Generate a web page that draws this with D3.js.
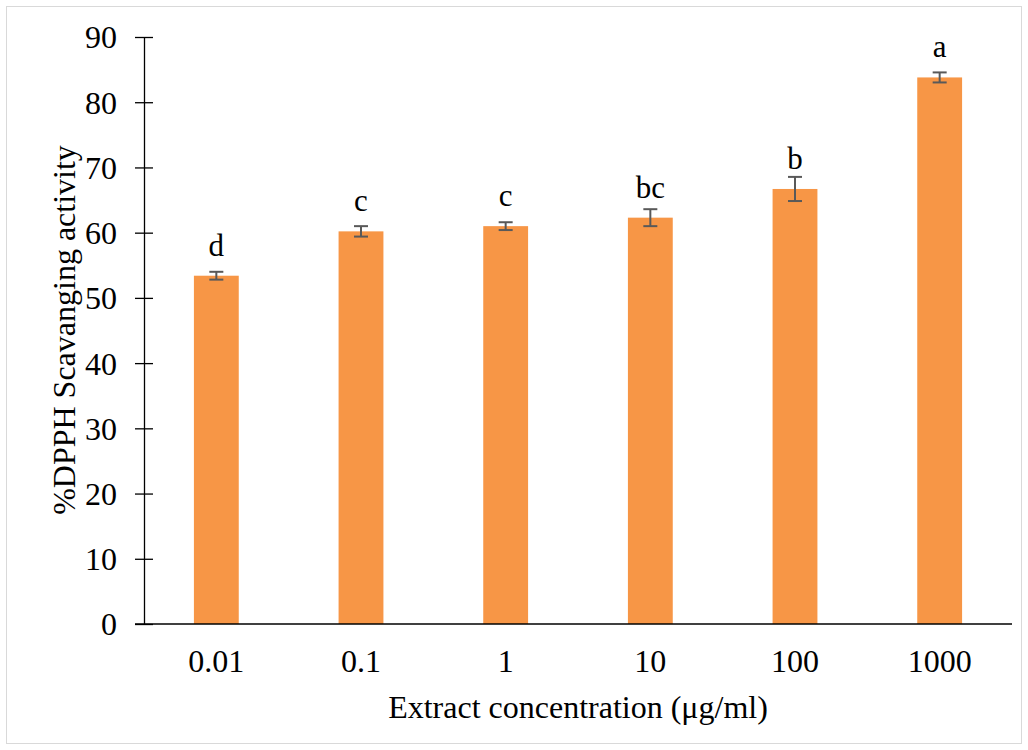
<!DOCTYPE html>
<html>
<head>
<meta charset="utf-8">
<script src="https://cdn.jsdelivr.net/npm/d3@7"></script>
<style>
  body { margin: 0; background: #fff; }
  text { font-family: "Liberation Serif", "Times New Roman", serif; fill: #000; }
</style>
</head>
<body>
<svg id="chart"></svg>
<script>
const categories = ['0.01', '0.1', '1', '10', '100', '1000'];
const values = [53.4, 60.2, 61.0, 62.3, 66.7, 83.8];
const errors = [0.6, 0.8, 0.6, 1.3, 1.85, 0.77];
const letters = ['d', 'c', 'c', 'bc', 'b', 'a'];
const yTicks = [0, 10, 20, 30, 40, 50, 60, 70, 80, 90];

const width = 1028;
const height = 750;

const svg = d3.select('#chart')
  .attr('width', width)
  .attr('height', height);

// light frame around the chart
svg.append('rect')
  .attr('x', 6.5).attr('y', 6.5)
  .attr('width', 1015).attr('height', 737)
  .attr('fill', '#fff')
  .attr('stroke', '#d9d9d9');

const margin = {left: 144, right: 16, top: 37, bottom: 126};
const innerW = width - margin.left - margin.right;
const innerH = height - margin.top - margin.bottom;

const g = svg.append('g')
  .attr('transform', `translate(${margin.left}, ${margin.top})`);

const xScale = d3.scaleBand()
  .domain(categories)
  .range([0, innerW])
  .paddingInner(0.69)
  .paddingOuter(0.345);

const yScale = d3.scaleLinear()
  .domain([0, 90])
  .range([innerH, 0]);

// y axis with ticks crossing the line
const yAxis = g.append('g')
  .call(d3.axisLeft(yScale).tickValues(yTicks).tickSize(0).tickPadding(27));
yAxis.select('.domain').attr('stroke', '#000').attr('stroke-width', 1.3);
yAxis.selectAll('.tick text').attr('font-size', 32).attr('dy', '0.34em');
yAxis.selectAll('.tick').append('line')
  .attr('x1', -9).attr('x2', 9)
  .attr('stroke', '#000').attr('stroke-width', 1.3);

// bars
g.selectAll('rect.bar')
  .data(values)
  .join('rect')
    .attr('class', 'bar')
    .attr('x', (_, i) => xScale(categories[i]))
    .attr('width', xScale.bandwidth())
    .attr('y', d => yScale(d))
    .attr('height', d => innerH - yScale(d))
    .attr('fill', '#f79646');

// error bars
const errG = g.append('g').attr('stroke', '#595959').attr('stroke-width', 2);
values.forEach((v, i) => {
  const cx = xScale(categories[i]) + xScale.bandwidth() / 2;
  const y1 = yScale(v + errors[i]);
  const y2 = yScale(v - errors[i]);
  errG.append('line').attr('x1', cx).attr('x2', cx).attr('y1', y1).attr('y2', y2);
  errG.append('line').attr('x1', cx - 7).attr('x2', cx + 7).attr('y1', y1).attr('y2', y1);
  errG.append('line').attr('x1', cx - 7).attr('x2', cx + 7).attr('y1', y2).attr('y2', y2);
});

// significance letters
g.selectAll('text.letter')
  .data(letters)
  .join('text')
    .attr('class', 'letter')
    .attr('x', (_, i) => xScale(categories[i]) + xScale.bandwidth() / 2)
    .attr('y', (_, i) => yScale(values[i]) - 20)
    .attr('text-anchor', 'middle')
    .attr('font-size', 31)
    .text(d => d);

// x axis
const xAxis = g.append('g')
  .attr('transform', `translate(0, ${innerH})`)
  .call(d3.axisBottom(xScale).tickSize(0));
xAxis.select('.domain').attr('stroke', '#000').attr('stroke-width', 1.3)
  .attr('d', `M-9,0H${innerW}`);
xAxis.selectAll('.tick text').attr('font-size', 32).attr('y', 48).attr('dy', 0);

// axis titles
svg.append('text')
  .attr('x', 578).attr('y', 718)
  .attr('text-anchor', 'middle')
  .attr('font-size', 32)
  .text('Extract concentration (μg/ml)');

svg.append('text')
  .attr('transform', 'translate(75, 330) rotate(-90)')
  .attr('text-anchor', 'middle')
  .attr('font-size', 32)
  .text('%DPPH Scavanging activity');
</script>
</body>
</html>
